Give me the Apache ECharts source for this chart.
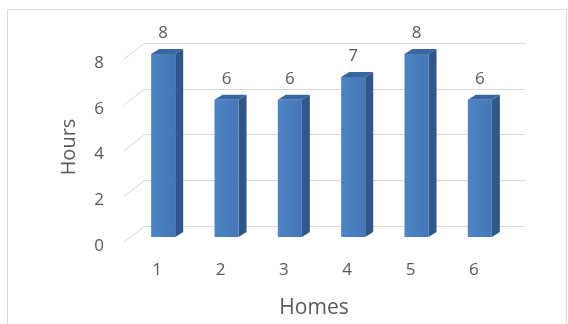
<!DOCTYPE html>
<html>
<head>
<meta charset="utf-8">
<script src="https://cdn.jsdelivr.net/npm/echarts@6/dist/echarts.min.js"></script>
<style>
html,body{margin:0;padding:0;background:#fff;}
#chart{width:568px;height:324px;}
</style>
</head>
<body>
<div id="chart"></div>
<script>
const categories = ['1', '2', '3', '4', '5', '6'];
const hours = [8, 6, 6, 7, 8, 6];
const yTicks = [0, 2, 4, 6, 8];

const FONT = '"Open Sans", "Noto Sans", sans-serif';
const TXT = '#595959';

const chart = echarts.init(document.getElementById('chart'), null, {renderer: 'canvas'});

const option = {
  animation: false,
  backgroundColor: '#ffffff',
  graphic: [{
    type: 'rect',
    shape: {x: 7.5, y: 9.5, width: 559, height: 340},
    style: {fill: 'none', stroke: '#d9d9d9', lineWidth: 1},
    silent: true
  }],
  grid: {left: 145, right: 43, top: 43, bottom: 96},
  xAxis: {
    type: 'category',
    data: categories,
    axisLine: {show: false},
    axisTick: {show: false},
    splitLine: {show: false},
    axisLabel: {margin: 36, fontSize: 17, color: TXT, fontFamily: FONT, padding: [0, 39, 0, 0]},
    name: 'Homes',
    nameLocation: 'middle',
    nameGap: 72,
    nameTextStyle: {fontSize: 21, color: TXT, fontFamily: FONT, padding: [0, 42, 0, 0]}
  },
  yAxis: {
    type: 'value',
    min: 0, max: 8, interval: 2,
    axisLine: {show: false},
    axisTick: {show: false},
    splitLine: {lineStyle: {color: '#d9d9d9', width: 1}},
    axisLabel: {show: false},
    name: 'Hours',
    nameLocation: 'middle',
    nameGap: 66,
    nameTextStyle: {fontSize: 20, color: TXT, fontFamily: FONT, padding: [0, 25, 0, 0]}
  },
  series: [
    {
      type: 'custom',
      clip: false,
      silent: true,
      data: yTicks.map(v => [0, v]),
      encode: {x: 0, y: 1},
      renderItem: function (params, api) {
        const v = api.value(1);
        const y = api.coord([0, v])[1];
        const x0 = params.coordSys.x;
        return {
          type: 'group',
          children: [
            {
              type: 'line',
              shape: {x1: x0, y1: y, x2: x0 - 21, y2: y + 16},
              style: {stroke: '#d9d9d9', lineWidth: 1}
            },
            {
              type: 'text',
              style: {
                x: x0 - 41, y: y + 20,
                text: String(v),
                fill: TXT,
                font: '17px ' + FONT,
                align: 'right',
                verticalAlign: 'middle'
              }
            }
          ]
        };
      }
    },
    {
      type: 'custom',
      clip: false,
      data: hours.map((v, i) => [i, v]),
      encode: {x: 0, y: 1},
      renderItem: function (params, api) {
        const i = api.value(0), v = api.value(1);
        const top = api.coord([i, v]);
        const base = api.coord([i, 0]);
        const band = api.size([1, 0])[0];
        const w = band * 0.38;
        const cx = top[0] - 13.5;
        const L = cx - w / 2, R = cx + w / 2;
        const T = top[1] + 11, B = base[1] + 11;
        const dx = 8, dy = 5;
        return {
          type: 'group',
          children: [
            {
              type: 'polygon',
              shape: {points: [[R, T], [R + dx, T - dy], [R + dx, B - dy], [R, B]]},
              style: {fill: '#2f5789'}
            },
            {
              type: 'polygon',
              shape: {points: [[L, T], [L + dx, T - dy], [R + dx, T - dy], [R, T]]},
              style: {fill: '#3a669f'}
            },
            {
              type: 'rect',
              shape: {x: L, y: T, width: w, height: B - T},
              style: {
                fill: new echarts.graphic.LinearGradient(0, 0, 1, 0, [
                  {offset: 0, color: '#4f84c4'},
                  {offset: 1, color: '#4476b6'}
                ])
              }
            },
            {
              type: 'text',
              style: {
                x: cx, y: T - 21,
                text: String(v),
                fill: TXT,
                font: '17px ' + FONT,
                align: 'center',
                verticalAlign: 'middle'
              }
            }
          ]
        };
      }
    }
  ]
};

chart.setOption(option);
</script>
</body>
</html>
